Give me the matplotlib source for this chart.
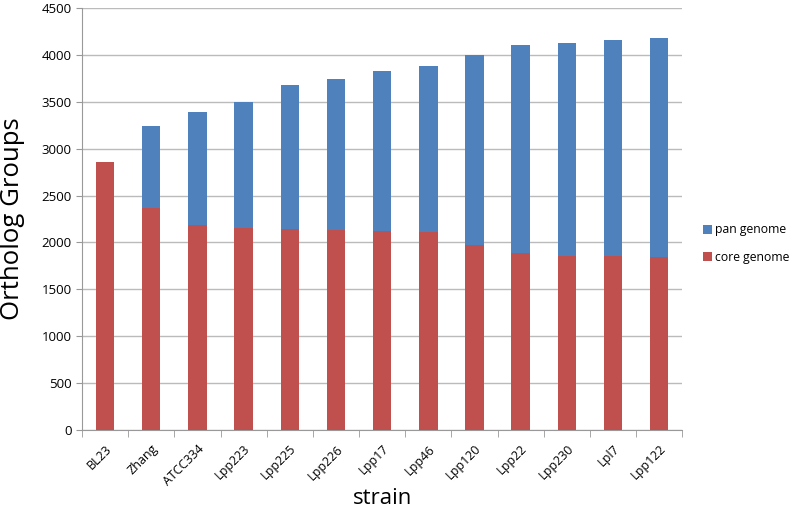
import matplotlib.pyplot as plt
import numpy as np

plt.rcParams['font.family'] = ['Open Sans', 'DejaVu Sans']

strains = ["BL23", "Zhang", "ATCC334", "Lpp223", "Lpp225", "Lpp226", "Lpp17",
           "Lpp46", "Lpp120", "Lpp22", "Lpp230", "Lpl7", "Lpp122"]
pan_genome = [2857, 3240, 3388, 3494, 3678, 3739, 3828, 3881, 3998, 4104, 4126, 4158, 4179]
core_genome = [2857, 2363, 2185, 2157, 2140, 2132, 2118, 2111, 1972, 1885, 1859, 1859, 1842]

blue = "#4F81BD"
red = "#C0504D"

fig = plt.figure(figsize=(7.93, 5.13), dpi=100)
ax = fig.add_axes([0.1034, 0.1618, 0.757, 0.8226])

x = np.arange(len(strains))
ax.bar(x, pan_genome, width=0.4, color=blue, label="pan genome", zorder=3)
ax.bar(x, core_genome, width=0.4, color=red, label="core genome", zorder=3)

ax.set_xlim(-0.5, len(strains) - 0.5)
ax.set_ylim(0, 4500)
ax.set_yticks(np.arange(0, 4501, 500))
ax.yaxis.grid(True, color="#BBBBBB", linewidth=1, zorder=0)
ax.set_axisbelow(True)

ax.set_xticks(x)
ax.set_xticklabels(strains, rotation=45, ha="right", rotation_mode="anchor", fontsize=9)
ax.set_xticks(np.arange(-0.5, len(strains), 1), minor=True)
ax.tick_params(axis="x", which="major", length=0, pad=9)
ax.tick_params(axis="x", which="minor", length=5, color="#999999")
ax.tick_params(axis="y", length=4, color="#999999", labelsize=9.5)

for s in ["top", "right"]:
    ax.spines[s].set_visible(False)
for s in ["left", "bottom"]:
    ax.spines[s].set_color("#999999")

ax.set_ylabel("Ortholog Groups", fontsize=18.5, va="center")
ax.yaxis.set_label_coords(-0.115, 0.5)
ax.set_xlabel("strain", fontsize=16, va="center")
ax.xaxis.set_label_coords(0.5, -0.162)

fig.legend(loc="center left", bbox_to_anchor=(0.886, 0.525), frameon=False,
           fontsize=8.8, handlelength=0.75, handleheight=0.75, handletextpad=0.3,
           labelspacing=1.2, borderpad=0, borderaxespad=0)

fig.savefig("out.png", dpi=100)
